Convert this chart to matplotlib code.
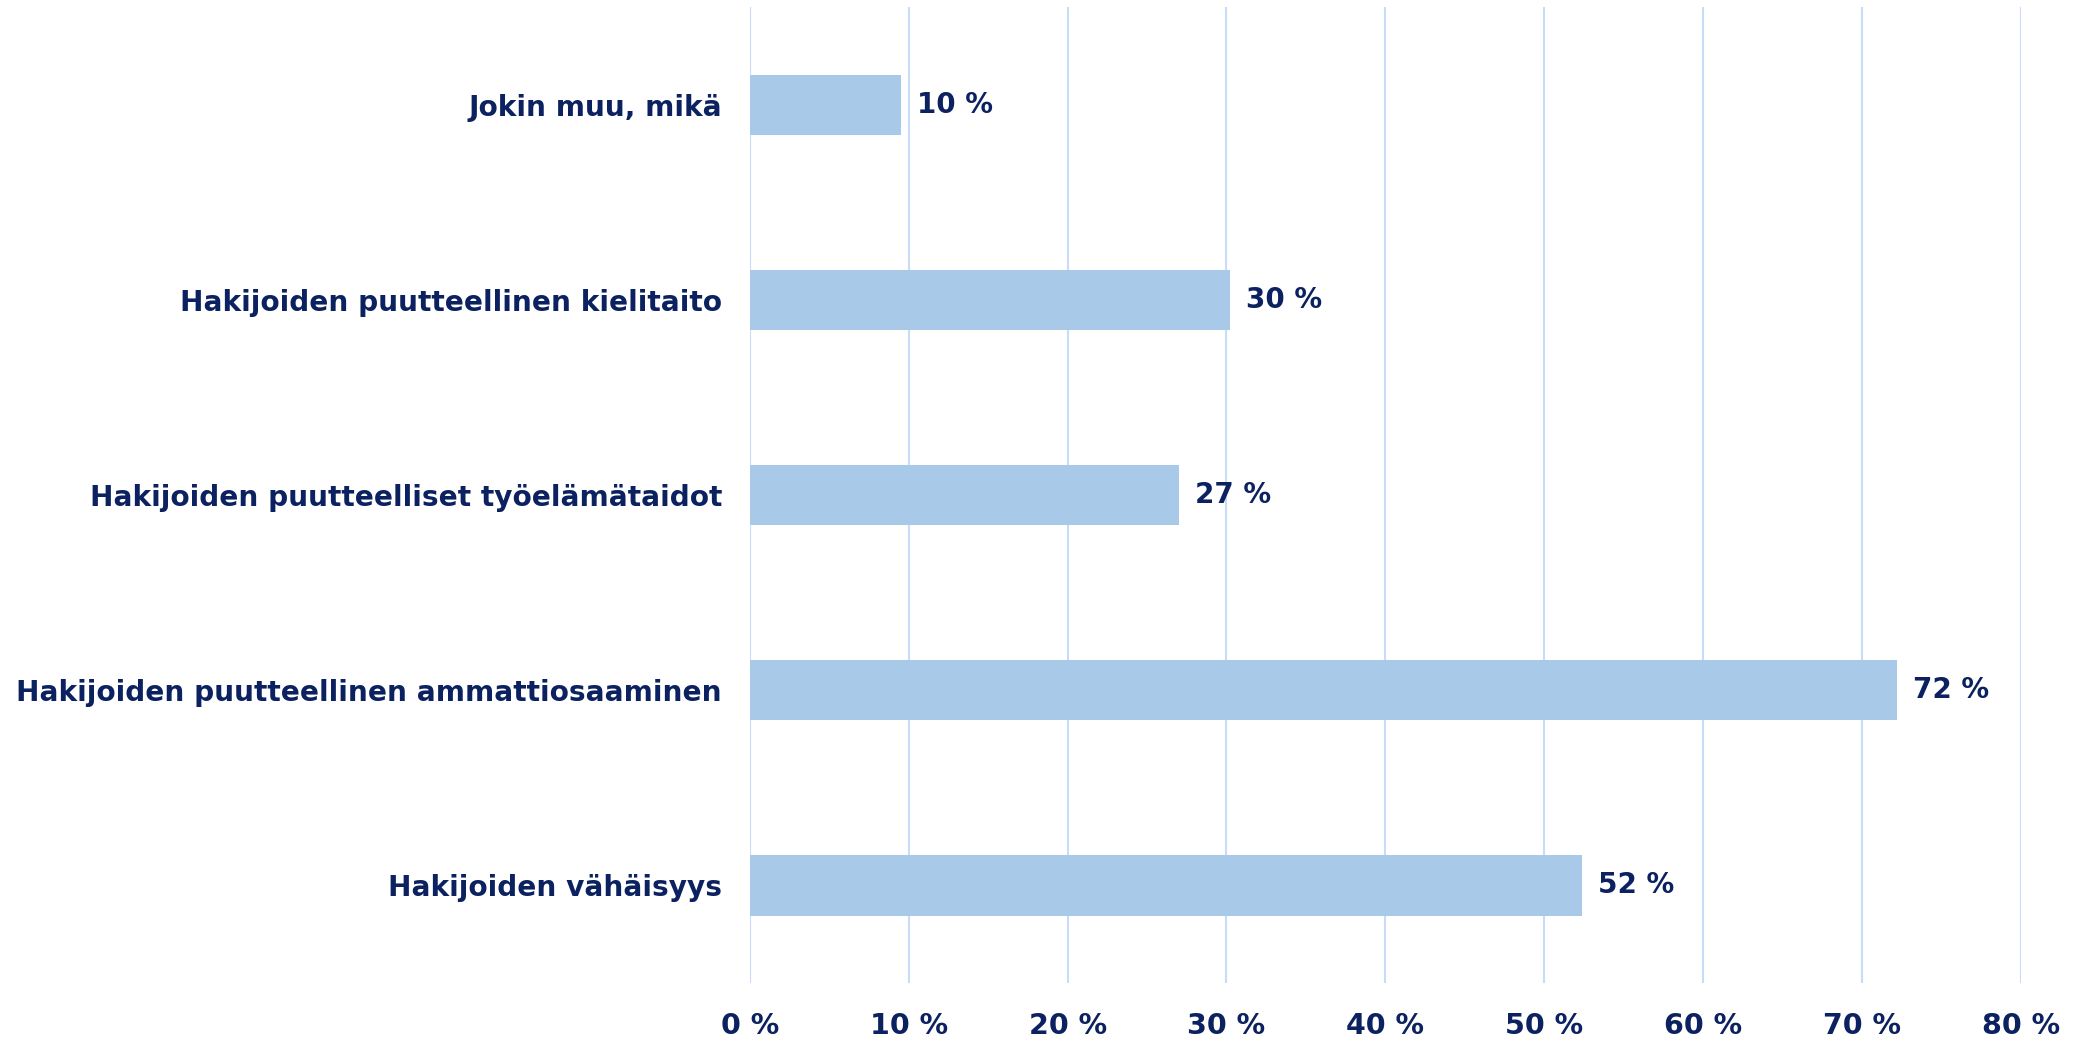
import matplotlib.pyplot as plt

categories = [
    "Hakijoiden vähäisyys",
    "Hakijoiden puutteellinen ammattiosaaminen",
    "Hakijoiden puutteelliset työelämätaidot",
    "Hakijoiden puutteellinen kielitaito",
    "Jokin muu, mikä",
]
values = [52.4, 72.2, 27.0, 30.2, 9.5]
labels = ["52 %", "72 %", "27 %", "30 %", "10 %"]
xticks = [0, 10, 20, 30, 40, 50, 60, 70, 80]

navy = "#0B2160"
bar_color = "#A8C9E7"
grid_color = "#C9DCF7"

plt.rcParams["font.family"] = ["DejaVu Sans"]

fig = plt.figure(figsize=(20.77, 10.39), dpi=100)
ax = fig.add_axes([0.361, 0.054, 0.612, 0.939])

y = range(len(categories))
ax.barh(y, values, height=0.31, color=bar_color, zorder=2)
for yi, v, lab in zip(y, values, labels):
    ax.text(v + 1.0, yi, lab, va="center", ha="left", fontsize=20,
            fontweight="bold", color=navy)

ax.set_xlim(0, 80)
ax.set_ylim(-0.5, 4.5)
ax.set_xticks(xticks)
ax.set_xticklabels([f"{t} %" for t in xticks])
ax.set_yticks(list(y))
ax.set_yticklabels(categories)
ax.grid(axis="x", color=grid_color, linewidth=1.5, zorder=0)
for s in ax.spines.values():
    s.set_visible(False)
ax.tick_params(length=0)
ax.tick_params(axis="x", pad=21)
ax.tick_params(axis="y", pad=20)
for t in ax.get_xticklabels():
    t.set_fontsize(20.5)
    t.set_fontweight("bold")
    t.set_color(navy)
for t in ax.get_yticklabels():
    t.set_fontsize(20.2)
    t.set_fontweight("bold")
    t.set_color(navy)

fig.savefig("out.png", dpi=100)
